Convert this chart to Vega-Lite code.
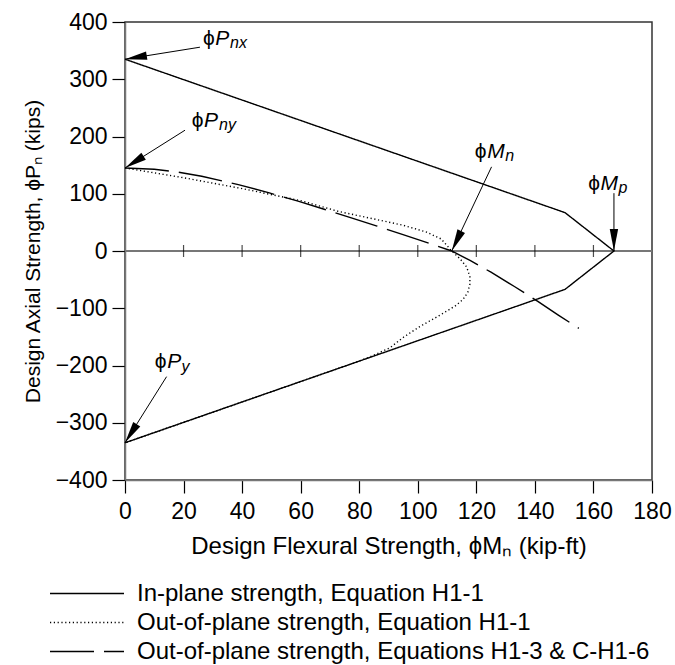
{
  "$schema": "https://vega.github.io/schema/vega-lite/v6.json",
  "width": 527,
  "height": 458,
  "autosize": {"type": "none"},
  "padding": {"left": 125, "top": 22, "right": 23, "bottom": 185},
  "config": {
    "font": "Liberation Sans",
    "view": {"stroke": "#333", "strokeWidth": 1.5},
    "axis": {
      "grid": false,
      "domainColor": "#777",
      "domainWidth": 1.5,
      "tickColor": "#000",
      "tickWidth": 1.2,
      "tickSize": 13,
      "labelFontSize": 23,
      "labelColor": "#000",
      "titleFontSize": 23,
      "titleFontWeight": "normal",
      "titleColor": "#000",
      "labelFont": "Liberation Sans",
      "titleFont": "Liberation Sans"
    }
  },
  "datasets": {
    "curves": [
      {"series": "In-plane strength, Equation H1-1", "i": 0, "m": 0, "p": 335},
      {"series": "In-plane strength, Equation H1-1", "i": 1, "m": 150.3, "p": 67},
      {"series": "In-plane strength, Equation H1-1", "i": 2, "m": 167, "p": 0},
      {"series": "In-plane strength, Equation H1-1", "i": 3, "m": 150.3, "p": -67},
      {"series": "In-plane strength, Equation H1-1", "i": 4, "m": 0, "p": -335},

      {"series": "Out-of-plane strength, Equation H1-1", "i": 0, "m": 0, "p": 145},
      {"series": "Out-of-plane strength, Equation H1-1", "i": 1, "m": 20, "p": 128},
      {"series": "Out-of-plane strength, Equation H1-1", "i": 2, "m": 40, "p": 109},
      {"series": "Out-of-plane strength, Equation H1-1", "i": 3, "m": 60, "p": 88},
      {"series": "Out-of-plane strength, Equation H1-1", "i": 4, "m": 73, "p": 69},
      {"series": "Out-of-plane strength, Equation H1-1", "i": 5, "m": 85, "p": 56},
      {"series": "Out-of-plane strength, Equation H1-1", "i": 6, "m": 95, "p": 45},
      {"series": "Out-of-plane strength, Equation H1-1", "i": 7, "m": 103, "p": 33},
      {"series": "Out-of-plane strength, Equation H1-1", "i": 8, "m": 108, "p": 21},
      {"series": "Out-of-plane strength, Equation H1-1", "i": 9, "m": 111.6, "p": 0},
      {"series": "Out-of-plane strength, Equation H1-1", "i": 10, "m": 114.5, "p": -14},
      {"series": "Out-of-plane strength, Equation H1-1", "i": 11, "m": 116.7, "p": -28},
      {"series": "Out-of-plane strength, Equation H1-1", "i": 12, "m": 117.8, "p": -45},
      {"series": "Out-of-plane strength, Equation H1-1", "i": 13, "m": 117.8, "p": -58},
      {"series": "Out-of-plane strength, Equation H1-1", "i": 14, "m": 117.1, "p": -72},
      {"series": "Out-of-plane strength, Equation H1-1", "i": 15, "m": 115.4, "p": -85},
      {"series": "Out-of-plane strength, Equation H1-1", "i": 16, "m": 112.8, "p": -96},
      {"series": "Out-of-plane strength, Equation H1-1", "i": 17, "m": 107.6, "p": -112},
      {"series": "Out-of-plane strength, Equation H1-1", "i": 18, "m": 100.7, "p": -132},
      {"series": "Out-of-plane strength, Equation H1-1", "i": 19, "m": 95, "p": -151},
      {"series": "Out-of-plane strength, Equation H1-1", "i": 20, "m": 90.5, "p": -169},
      {"series": "Out-of-plane strength, Equation H1-1", "i": 21, "m": 85, "p": -182},
      {"series": "Out-of-plane strength, Equation H1-1", "i": 22, "m": 80, "p": -192.4},
      {"series": "Out-of-plane strength, Equation H1-1", "i": 23, "m": 0, "p": -335},

      {"series": "Out-of-plane strength, Equations H1-3 & C-H1-6", "i": 0, "m": 0, "p": 145},
      {"series": "Out-of-plane strength, Equations H1-3 & C-H1-6", "i": 1, "m": 10, "p": 142.7},
      {"series": "Out-of-plane strength, Equations H1-3 & C-H1-6", "i": 2, "m": 18.1, "p": 137.8},
      {"series": "Out-of-plane strength, Equations H1-3 & C-H1-6", "i": 3, "m": 26.2, "p": 130.5},
      {"series": "Out-of-plane strength, Equations H1-3 & C-H1-6", "i": 4, "m": 38.7, "p": 116},
      {"series": "Out-of-plane strength, Equations H1-3 & C-H1-6", "i": 5, "m": 49.3, "p": 101.5},
      {"series": "Out-of-plane strength, Equations H1-3 & C-H1-6", "i": 6, "m": 59.1, "p": 87},
      {"series": "Out-of-plane strength, Equations H1-3 & C-H1-6", "i": 7, "m": 68.3, "p": 72.5},
      {"series": "Out-of-plane strength, Equations H1-3 & C-H1-6", "i": 8, "m": 77.3, "p": 58},
      {"series": "Out-of-plane strength, Equations H1-3 & C-H1-6", "i": 9, "m": 86.1, "p": 43.5},
      {"series": "Out-of-plane strength, Equations H1-3 & C-H1-6", "i": 10, "m": 94.7, "p": 29},
      {"series": "Out-of-plane strength, Equations H1-3 & C-H1-6", "i": 11, "m": 103.2, "p": 14.5},
      {"series": "Out-of-plane strength, Equations H1-3 & C-H1-6", "i": 12, "m": 111.6, "p": 0},
      {"series": "Out-of-plane strength, Equations H1-3 & C-H1-6", "i": 13, "m": 118, "p": -17},
      {"series": "Out-of-plane strength, Equations H1-3 & C-H1-6", "i": 14, "m": 125, "p": -37},
      {"series": "Out-of-plane strength, Equations H1-3 & C-H1-6", "i": 15, "m": 133, "p": -62},
      {"series": "Out-of-plane strength, Equations H1-3 & C-H1-6", "i": 16, "m": 141, "p": -88},
      {"series": "Out-of-plane strength, Equations H1-3 & C-H1-6", "i": 17, "m": 148, "p": -112},
      {"series": "Out-of-plane strength, Equations H1-3 & C-H1-6", "i": 18, "m": 155, "p": -135}
    ],
    "arrows": [
      {"name": "Pnx", "m": 25.6, "p": 356, "m2": 0, "p2": 335, "angle": 260.7},
      {"name": "Pny", "m": 20.5, "p": 211, "m2": 0, "p2": 145, "angle": 237.7},
      {"name": "Mn", "m": 125.2, "p": 147, "m2": 111.6, "p2": 0, "angle": 205.6},
      {"name": "Mp", "m": 167, "p": 101, "m2": 167, "p2": 0, "angle": 180},
      {"name": "Py", "m": 14.2, "p": -219.5, "m2": 0, "p2": -335, "angle": 212.3}
    ],
    "labels": [
      {"part": "phi", "m": 26.6, "p": 359.8, "t": "ϕ"},
      {"part": "main", "m": 30.8, "p": 359.8, "t": "P"},
      {"part": "sub", "m": 35.9, "p": 354, "t": "nx"},
      {"part": "phi", "m": 22.8, "p": 217, "t": "ϕ"},
      {"part": "main", "m": 27, "p": 217, "t": "P"},
      {"part": "sub", "m": 32.1, "p": 211.3, "t": "ny"},
      {"part": "phi", "m": 119.5, "p": 162, "t": "ϕ"},
      {"part": "main", "m": 123.7, "p": 162, "t": "M"},
      {"part": "sub", "m": 129.9, "p": 157, "t": "n"},
      {"part": "phi", "m": 158.2, "p": 106.5, "t": "ϕ"},
      {"part": "main", "m": 162.4, "p": 106.5, "t": "M"},
      {"part": "sub", "m": 168.6, "p": 101.3, "t": "p"},
      {"part": "phi", "m": 10.2, "p": -205, "t": "ϕ"},
      {"part": "main", "m": 14.4, "p": -205, "t": "P"},
      {"part": "sub", "m": 19.3, "p": -211, "t": "y"}
    ],
    "zeroTicks": [
      {"m": 20}, {"m": 40}, {"m": 60}, {"m": 80}, {"m": 100}, {"m": 120}, {"m": 140}, {"m": 160}
    ]
  },
  "layer": [
    {
      "data": {"values": [{"p": 0}]},
      "mark": {"type": "rule", "color": "#777", "strokeWidth": 2},
      "encoding": {
        "y": {
          "field": "p",
          "type": "quantitative",
          "scale": {"domain": [-400, 400], "nice": false},
          "axis": {
            "values": [-400, -300, -200, -100, 0, 100, 200, 300, 400],
            "labelPadding": 5,
            "labelFlush": false,
            "title": "Design Axial Strength, ϕPₙ (kips)",
            "titleFontSize": 21,
            "titlePadding": 12
          }
        }
      }
    },
    {
      "data": {"name": "zeroTicks"},
      "mark": {"type": "tick", "orient": "vertical", "size": 12, "thickness": 1.2, "color": "#000"},
      "encoding": {
        "x": {
          "field": "m",
          "type": "quantitative",
          "scale": {"domain": [0, 180], "nice": false, "zero": true},
          "axis": {
            "values": [0, 20, 40, 60, 80, 100, 120, 140, 160, 180],
            "labelPadding": 7,
            "labelFlush": false,
            "labelOverlap": false,
            "title": "Design Flexural Strength, ϕMₙ (kip-ft)",
            "titleFontSize": 24,
            "titlePadding": 11
          }
        },
        "y": {"datum": 0, "type": "quantitative"}
      }
    },
    {
      "data": {"name": "curves"},
      "mark": {"type": "line", "color": "#000", "strokeWidth": 1.4},
      "encoding": {
        "x": {"field": "m", "type": "quantitative"},
        "y": {"field": "p", "type": "quantitative"},
        "order": {"field": "i", "type": "quantitative"},
        "strokeDash": {
          "field": "series",
          "type": "nominal",
          "scale": {
            "domain": [
              "In-plane strength, Equation H1-1",
              "Out-of-plane strength, Equation H1-1",
              "Out-of-plane strength, Equations H1-3 & C-H1-6"
            ],
            "range": [[1, 0], [1.2, 2.6], [44, 10]]
          },
          "legend": {
            "orient": "none",
            "legendX": -76,
            "legendY": 557,
            "title": null,
            "symbolType": "stroke",
            "symbolSize": 5476,
            "symbolStrokeWidth": 1.4,
            "symbolStrokeColor": "#000",
            "labelFontSize": 24,
            "labelColor": "#000",
            "labelFont": "Liberation Sans",
            "labelOffset": 12,
            "labelLimit": 700,
            "clipHeight": 29,
            "rowPadding": 0,
            "padding": 0
          }
        }
      }
    },
    {
      "data": {"name": "arrows"},
      "mark": {"type": "rule", "color": "#000", "strokeWidth": 1},
      "encoding": {
        "x": {"field": "m", "type": "quantitative"},
        "y": {"field": "p", "type": "quantitative"},
        "x2": {"field": "m2"},
        "y2": {"field": "p2"}
      }
    },
    {
      "data": {"name": "arrows"},
      "mark": {"type": "point", "shape": "M0,0L-0.38,2L0.38,2Z", "filled": true, "color": "#000", "opacity": 1, "size": 484},
      "encoding": {
        "x": {"field": "m2", "type": "quantitative"},
        "y": {"field": "p2", "type": "quantitative"},
        "angle": {"field": "angle", "type": "quantitative", "scale": null}
      }
    },
    {
      "data": {"name": "labels"},
      "transform": [{"filter": "datum.part == 'phi'"}],
      "mark": {"type": "text", "align": "left", "baseline": "alphabetic", "fontSize": 21, "color": "#000"},
      "encoding": {
        "x": {"field": "m", "type": "quantitative"},
        "y": {"field": "p", "type": "quantitative"},
        "text": {"field": "t"}
      }
    },
    {
      "data": {"name": "labels"},
      "transform": [{"filter": "datum.part == 'main'"}],
      "mark": {"type": "text", "align": "left", "baseline": "alphabetic", "fontSize": 21, "fontStyle": "italic", "color": "#000"},
      "encoding": {
        "x": {"field": "m", "type": "quantitative"},
        "y": {"field": "p", "type": "quantitative"},
        "text": {"field": "t"}
      }
    },
    {
      "data": {"name": "labels"},
      "transform": [{"filter": "datum.part == 'sub'"}],
      "mark": {"type": "text", "align": "left", "baseline": "alphabetic", "fontSize": 16, "fontStyle": "italic", "color": "#000"},
      "encoding": {
        "x": {"field": "m", "type": "quantitative"},
        "y": {"field": "p", "type": "quantitative"},
        "text": {"field": "t"}
      }
    }
  ]
}
